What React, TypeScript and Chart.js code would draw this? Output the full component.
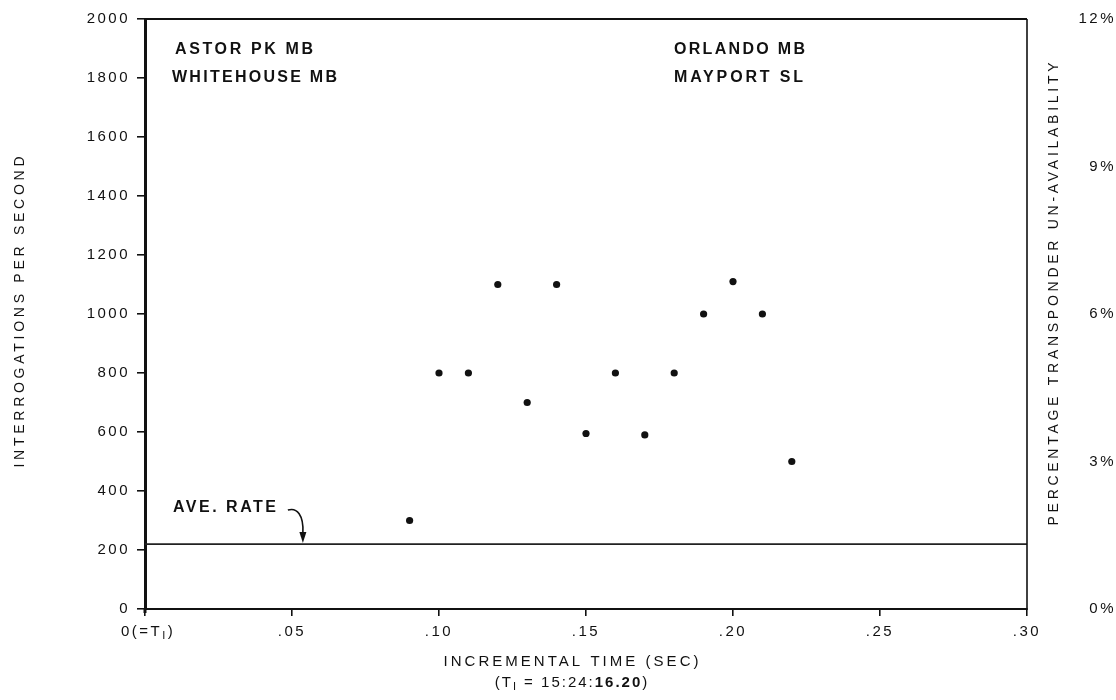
import React, { useEffect, useRef } from "react";
import { Chart, registerables } from "chart.js";

Chart.register(...registerables);

// ---- data ----
const timeSec = [0.09, 0.10, 0.11, 0.12, 0.13, 0.14, 0.15, 0.16, 0.17, 0.18, 0.19, 0.20, 0.21, 0.22];
const interrogationsPerSec = [300, 800, 800, 1100, 700, 1100, 595, 800, 590, 800, 1000, 1110, 1000, 500];
const aveRate = 220;
const aveRateArrowX = 0.0537;
const xRange = [0, 0.3];
const yRange = [0, 2000];
const pctRange = [0, 12];
const xStep = 0.05;
const yStep = 200;
const pctStep = 3;
const stationsLeft = ["ASTOR PK MB", "WHITEHOUSE MB"];
const stationsRight = ["ORLANDO MB", "MAYPORT SL"];
const yTitle = "INTERROGATIONS PER SECOND";
const y2Title = "PERCENTAGE TRANSPONDER UN-AVAILABILITY";
const xTitle = "INCREMENTAL TIME (SEC)";
const refTimeParts = ["(T", "I", " = 15:24:", "16.20", ")"];
const zeroLabelParts = ["0(=T", "I", ")"];
const aveLabel = "AVE. RATE";

const FONT = '"Liberation Sans", Arial, Helvetica, sans-serif';
const TICK_LS = "2.5px";
const INK = "#111";

function setLS(ctx: any, v: string) {
  ctx.letterSpacing = v;
}

function fitText(ctx: CanvasRenderingContext2D, text: string, x: number, y: number, width: number, font: string, align: "left" | "center" = "left") {
  ctx.save();
  ctx.font = font;
  setLS(ctx, "0px");
  const w = ctx.measureText(text).width;
  const n = text.length;
  const ls = n > 1 ? (width - w) / (n - 1) : 0;
  setLS(ctx, ls + "px");
  ctx.textBaseline = "middle";
  ctx.textAlign = "left";
  ctx.fillStyle = INK;
  const sx = align === "center" ? x - width / 2 : x;
  ctx.fillText(text, sx, y);
  ctx.restore();
}

type Seg = { t: string; font: string; dy: number };

function drawSegs(ctx: CanvasRenderingContext2D, segs: Seg[], x: number, y: number, ls: string, align: "left" | "center") {
  ctx.save();
  setLS(ctx, ls);
  ctx.textBaseline = "middle";
  ctx.textAlign = "left";
  ctx.fillStyle = INK;
  let total = 0;
  const widths = segs.map((s) => {
    ctx.font = s.font;
    const w = ctx.measureText(s.t).width;
    total += w;
    return w;
  });
  let cx = align === "center" ? x - total / 2 : x;
  segs.forEach((s, i) => {
    ctx.font = s.font;
    ctx.fillText(s.t, cx, y + s.dy);
    cx += widths[i];
  });
  ctx.restore();
}

const decor = {
  id: "decor",
  beforeUpdate(chart: any) {
    setLS(chart.ctx, TICK_LS);
  },
  beforeLayout(chart: any) {
    setLS(chart.ctx, TICK_LS);
  },
  beforeDraw(chart: any) {
    setLS(chart.ctx, TICK_LS);
  },
  afterDraw(chart: any) {
    const { ctx, chartArea: a, scales } = chart;
    const sx = scales.x;
    const sy = scales.y;
    ctx.save();
    ctx.strokeStyle = INK;
    // frame top & right
    ctx.lineWidth = 2;
    ctx.beginPath();
    ctx.moveTo(a.left, a.top);
    ctx.lineTo(a.right, a.top);
    ctx.stroke();
    ctx.lineWidth = 1.6;
    ctx.beginPath();
    ctx.moveTo(a.right, a.top);
    ctx.lineTo(a.right, a.bottom + 1);
    ctx.stroke();
    // left axis runs slightly below the x axis
    ctx.lineWidth = 3;
    ctx.beginPath();
    ctx.moveTo(a.left, a.bottom);
    ctx.lineTo(a.left, a.bottom + 4);
    ctx.stroke();
    ctx.restore();

    const norm = `15px ${FONT}`;
    const bold = `bold 15px ${FONT}`;
    const sub = `11px ${FONT}`;
    const ann = `bold 16px ${FONT}`;
    const title = `14px ${FONT}`;

    // station annotations
    fitText(ctx, stationsLeft[0], a.left + 30, a.top + 31, 138, ann);
    fitText(ctx, stationsLeft[1], a.left + 27, a.top + 59, 165, ann);
    fitText(ctx, stationsRight[0], a.left + 529, a.top + 31, 131, ann);
    fitText(ctx, stationsRight[1], a.left + 529, a.top + 59, 129, ann);

    // ave rate label and arrow
    const tipX = sx.getPixelForValue(aveRateArrowX);
    const tipY = sy.getPixelForValue(aveRate);
    fitText(ctx, aveLabel, a.left + 28, tipY - 37, 103, ann);
    ctx.save();
    ctx.strokeStyle = INK;
    ctx.fillStyle = INK;
    ctx.lineWidth = 1.6;
    ctx.beginPath();
    ctx.moveTo(tipX - 15, tipY - 34);
    ctx.bezierCurveTo(tipX - 6, tipY - 37, tipX + 1, tipY - 29, tipX, tipY - 11);
    ctx.stroke();
    ctx.beginPath();
    ctx.moveTo(tipX - 3.5, tipY - 12);
    ctx.lineTo(tipX + 3.5, tipY - 12);
    ctx.lineTo(tipX, tipY - 1);
    ctx.closePath();
    ctx.fill();
    ctx.restore();

    // zero tick label 0(=T_I)
    const x0 = sx.getPixelForValue(0);
    drawSegs(
      ctx,
      [
        { t: zeroLabelParts[0], font: norm, dy: 0 },
        { t: zeroLabelParts[1], font: sub, dy: 4 },
        { t: zeroLabelParts[2], font: norm, dy: 0 },
      ],
      x0 - 24,
      a.bottom + 23,
      "2.5px",
      "left"
    );

    // x title
    fitText(ctx, xTitle, 571, a.bottom + 53, 255, `15px ${FONT}`, "center");
    drawSegs(
      ctx,
      [
        { t: refTimeParts[0], font: norm, dy: 0 },
        { t: refTimeParts[1], font: sub, dy: 4 },
        { t: refTimeParts[2], font: norm, dy: 0 },
        { t: refTimeParts[3], font: bold, dy: 0 },
        { t: refTimeParts[4], font: norm, dy: 0 },
      ],
      572,
      a.bottom + 74,
      "2px",
      "center"
    );

    // y titles (rotated, reading bottom to top)
    ctx.save();
    ctx.translate(20, 312);
    ctx.rotate(-Math.PI / 2);
    fitText(ctx, yTitle, 0, 0, 311, title, "center");
    ctx.restore();

    ctx.save();
    ctx.translate(1054, 294);
    ctx.rotate(-Math.PI / 2);
    fitText(ctx, y2Title, 0, 0, 463, title, "center");
    ctx.restore();
  },
};

export default function App() {
  const ref = useRef<HTMLCanvasElement | null>(null);

  useEffect(() => {
    document.body.style.margin = "0";
    const canvas = ref.current;
    if (!canvas) return;
    const tickFont = { family: FONT, size: 15 };
    const chart = new Chart(canvas, {
      type: "scatter",
      data: {
        datasets: [
          {
            type: "scatter",
            label: "Interrogations",
            data: timeSec.map((t, i) => ({ x: t, y: interrogationsPerSec[i] })),
            pointRadius: 3.6,
            pointBackgroundColor: INK,
            pointBorderWidth: 0,
            borderColor: INK,
            yAxisID: "y",
          },
          {
            type: "line",
            label: "Ave. rate",
            data: [
              { x: xRange[0], y: aveRate },
              { x: xRange[1], y: aveRate },
            ],
            borderColor: "#222",
            borderWidth: 1.6,
            pointRadius: 0,
            fill: false,
            yAxisID: "y",
          } as any,
        ],
      },
      options: {
        animation: false,
        responsive: false,
        events: [],
        layout: { padding: { top: 19, left: 0, right: 0, bottom: 0 } },
        plugins: { legend: { display: false }, tooltip: { enabled: false } },
        scales: {
          x: {
            type: "linear",
            position: "bottom",
            min: xRange[0],
            max: xRange[1],
            afterFit: (s: any) => {
              s.height = 91;
              s.paddingLeft = 0;
              s.paddingRight = 0;
            },
            ticks: {
              stepSize: xStep,
              autoSkip: false,
              maxRotation: 0,
              padding: 7,
              color: INK,
              font: tickFont,
              callback: (v: any) => {
                const n = Math.round(Number(v) * 100);
                return n === 0 ? "" : "." + String(n).padStart(2, "0");
              },
            },
            grid: { drawOnChartArea: false, drawTicks: true, tickLength: 7, color: INK, lineWidth: 1.6 },
            border: { display: true, color: INK, width: 2 },
          },
          y: {
            type: "linear",
            position: "left",
            min: yRange[0],
            max: yRange[1],
            afterFit: (s: any) => {
              s.width = 145;
              s.paddingTop = 0;
              s.paddingBottom = 0;
            },
            ticks: {
              stepSize: yStep,
              autoSkip: false,
              padding: 7,
              color: INK,
              font: tickFont,
              callback: (v: any) => String(v),
            },
            grid: { drawOnChartArea: false, drawTicks: true, tickLength: 8, color: INK, lineWidth: 1.6 },
            border: { display: true, color: INK, width: 3 },
          },
          y2: {
            type: "linear",
            position: "right",
            min: pctRange[0],
            max: pctRange[1],
            afterFit: (s: any) => {
              s.width = 89;
              s.paddingTop = 0;
              s.paddingBottom = 0;
            },
            ticks: {
              stepSize: pctStep,
              autoSkip: false,
              padding: 48,
              crossAlign: "far",
              color: INK,
              font: tickFont,
              callback: (v: any) => `${v}%`,
            },
            grid: { display: false, drawTicks: false, drawOnChartArea: false },
            border: { display: false },
          },
        },
      },
      plugins: [decor],
    } as any);
    return () => chart.destroy();
  }, []);

  return (
    <div style={{ width: 1116, height: 700, background: "#fff" }}>
      <canvas ref={ref} width={1116} height={700} style={{ display: "block" }} />
    </div>
  );
}
